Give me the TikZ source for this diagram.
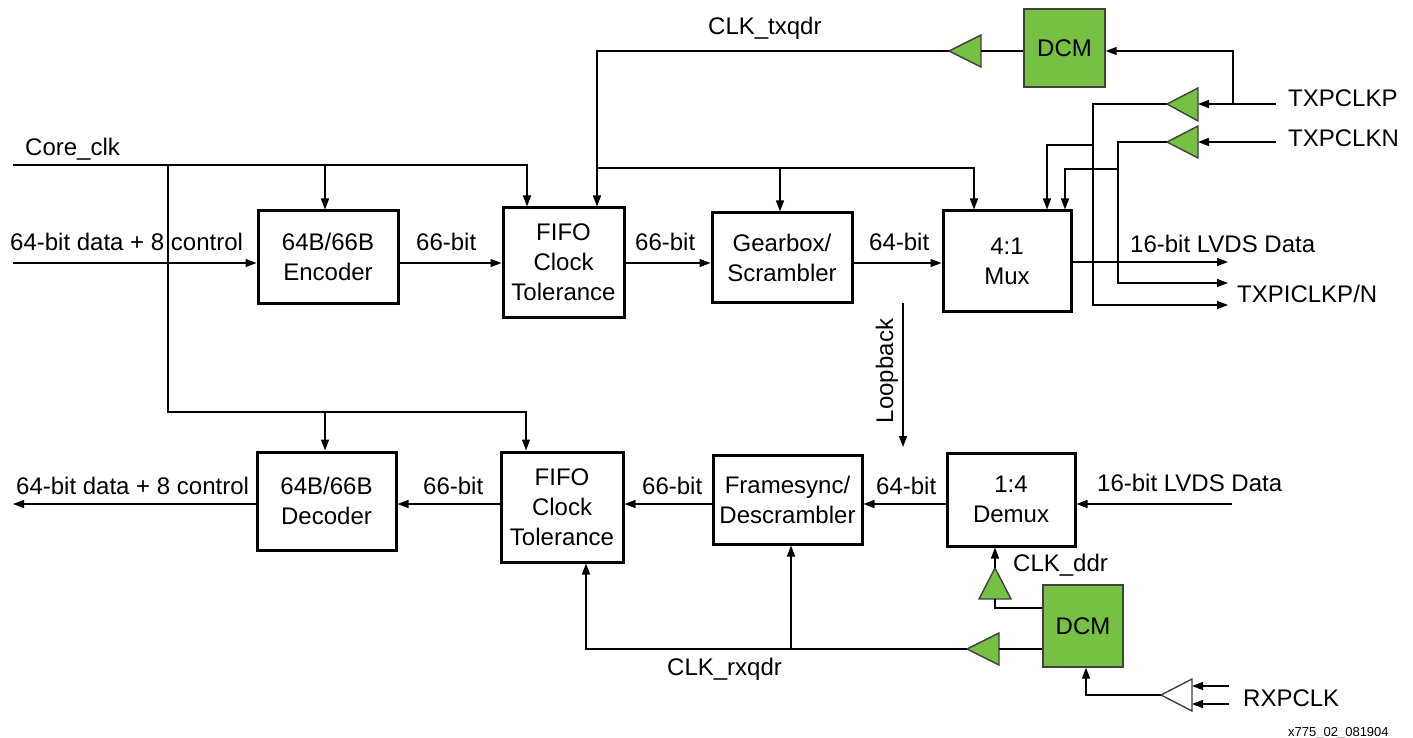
\documentclass[tikz,border=0pt]{standalone}
\usepackage{fontspec}
\setmainfont{Liberation Sans}
\usetikzlibrary{arrows.meta,calc}
\definecolor{dcmgreen}{RGB}{118,192,67}
\begin{document}
\begin{tikzpicture}[x=1pt,y=-1pt,
  every node/.style={font=\fontsize{24}{30}\selectfont, inner sep=0pt},
  wire/.style={line width=1.4pt},
  arr/.style={wire, -{Triangle[length=11pt,width=8pt]}},
  blk/.style={draw, line width=3pt, align=center},
  dcm/.style={draw=black!75, line width=1.4pt, fill=dcmgreen, align=center},
  buf/.style={draw=black!75, line width=1.4pt, fill=dcmgreen, line join=miter},
  wbuf/.style={draw=black!75, line width=1.4pt, fill=white, line join=miter},
  lbl/.style={anchor=base west},
  small/.style={font=\fontsize{13}{15}\selectfont}
]
\useasboundingbox (0,0) rectangle (1413,738);

% ---------------- blocks ----------------
\node[blk, minimum width=140, minimum height=92]  (enc)   at (328,257)   {64B/66B\\Encoder};
\node[blk, minimum width=121, minimum height=109] (fifo1) at (563.5,262.5) {FIFO\\Clock\\Tolerance};
\node[blk, minimum width=140, minimum height=89]  (gear)  at (782,257.5) {Gearbox/\\Scrambler};
\node[blk, minimum width=128, minimum height=100] (mux)   at (1007,261)  {4:1\\Mux};
\node[dcm, minimum width=81, minimum height=78]   (dcm1)  at (1064.5,48) {DCM};

\node[blk, minimum width=139, minimum height=98]  (dec)   at (326.5,501) {64B/66B\\Decoder};
\node[blk, minimum width=122, minimum height=110] (fifo2) at (562,507)   {FIFO\\Clock\\Tolerance};
\node[blk, minimum width=149, minimum height=89]  (fsync) at (787.5,499.5) {Framesync/\\Descrambler};
\node[blk, minimum width=128, minimum height=93]  (demux) at (1011,499.5) {1:4\\Demux};
\node[dcm, minimum width=80, minimum height=82]   (dcm2)  at (1083,626)  {DCM};

% ---------------- levels / columns ----------------
\coordinate (LdT) at (0,263);
\coordinate (LdB) at (0,504);
\coordinate (Lcore) at (0,165);
\coordinate (Ltx) at (0,168);
\coordinate (Lcore2) at (0,412);
\coordinate (Lrx) at (0,649);
\coordinate (Lddr) at (0,608);
\coordinate (Lmo) at (0,262);
\coordinate (Xenc) at (325,0);
\coordinate (Xdec) at (325,0);
\coordinate (Xf1a) at (527,0);
\coordinate (Xf1b) at (597,0);
\coordinate (Xf2a) at (526,0);
\coordinate (Xf2b) at (586,0);
\coordinate (Xgear) at (780,0);
\coordinate (Xfs) at (791,0);
\coordinate (Xmux1) at (974,0);
\coordinate (Xmux2) at (1047,0);
\coordinate (Xmux3) at (1065,0);
\coordinate (Xdcm2) at (1086,0);

% ---------------- buffers ----------------
\coordinate (b1tip) at (949,51);  \coordinate (b1base) at (981,51);
\filldraw[buf] (b1tip) -- (981,35) -- (981,67) -- cycle;
\coordinate (bPtip) at (1167,104); \coordinate (bPbase) at (1198,104);
\filldraw[buf] (bPtip) -- (1198,88) -- (1198,121) -- cycle;
\coordinate (bNtip) at (1167,142); \coordinate (bNbase) at (1198,142);
\filldraw[buf] (bNtip) -- (1198,126) -- (1198,158) -- cycle;
\coordinate (bLtip) at (967,649); \coordinate (bLbase) at (999,649);
\filldraw[buf] (bLtip) -- (999,633) -- (999,665) -- cycle;
\coordinate (bUtip) at (995,568); \coordinate (bUbase) at (995,599);
\filldraw[buf] (bUtip) -- (979,599) -- (1011,599) -- cycle;
\coordinate (bRtip) at (1161,695); \coordinate (bRbase) at (1192,695);
\filldraw[wbuf] (bRtip) -- (1192,679) -- (1192,711) -- cycle;

% ---------------- top data path ----------------
\coordinate (inT) at (13,263);
\draw[arr] (inT) -- (enc.west |- LdT);
\draw[arr] (enc.east |- LdT) -- (fifo1.west |- LdT);
\draw[arr] (fifo1.east |- LdT) -- (gear.west |- LdT);
\draw[arr] (gear.east |- LdT) -- (mux.west |- LdT);

% ---------------- core clock ----------------
\coordinate (coreS) at (13,165);
\coordinate (coreJ) at (168,165);
\draw[arr] (coreS) -| (fifo1.north -| Xf1a);
\draw[arr] (Xenc |- Lcore) -- (enc.north -| Xenc);
\draw[arr] (coreJ) |- (Xf2a |- Lcore2) -- (fifo2.north -| Xf2a);
\draw[arr] (Xdec |- Lcore2) -- (dec.north -| Xdec);

% ---------------- tx clock ----------------
\draw[wire] (dcm1.west |- b1base) -- (b1base);
\draw[arr] (b1tip) -| (fifo1.north -| Xf1b);
\draw[arr] (Xf1b |- Ltx) -| (mux.north -| Xmux1);
\draw[arr] (Xgear |- Ltx) -- (gear.north -| Xgear);

\coordinate (txpIn) at (1276,104);
\coordinate (txnIn) at (1276,142);
\coordinate (jP) at (1233,104);
\draw[arr] (txpIn) -- (bPbase);
\draw[arr] (txnIn) -- (bNbase);
\draw[arr] (jP) |- (dcm1.east |- b1base);

\coordinate (cP1) at (1093,104);
\coordinate (cP2) at (1093,305);
\coordinate (outP) at (1228,305);
\coordinate (cN1) at (1118,142);
\coordinate (cN2) at (1118,283);
\coordinate (outN) at (1228,283);
\coordinate (jP2) at (1093,145);
\coordinate (jN2) at (1118,169);
\coordinate (outD) at (1228,262);
\draw[arr] (bPtip) -- (cP1) -- (cP2) -- (outP);
\draw[arr] (bNtip) -- (cN1) -- (cN2) -- (outN);
\draw[arr] (jP2) -| (mux.north -| Xmux2);
\draw[arr] (jN2) -| (mux.north -| Xmux3);
\draw[arr] (mux.east |- Lmo) -- (outD);

% ---------------- loopback ----------------
\coordinate (lbS) at (903,303);
\coordinate (lbE) at (903,447);
\draw[arr] (lbS) -- (lbE);
\node[rotate=90, anchor=base] (tLoop) at (893,371) {Loopback};

% ---------------- bottom data path ----------------
\coordinate (rxIn) at (1232,504);
\coordinate (outB) at (13,504);
\draw[arr] (rxIn) -- (demux.east |- LdB);
\draw[arr] (demux.west |- LdB) -- (fsync.east |- LdB);
\draw[arr] (fsync.west |- LdB) -- (fifo2.east |- LdB);
\draw[arr] (fifo2.west |- LdB) -- (dec.east |- LdB);
\draw[arr] (dec.west |- LdB) -- (outB);

% ---------------- rx clock ----------------
\draw[wire] (dcm2.west |- Lrx) -- (bLbase);
\draw[arr] (bLtip) -| (fifo2.south -| Xf2b);
\draw[arr] (Xfs |- Lrx) -- (fsync.south -| Xfs);
\draw[wire] (dcm2.west |- Lddr) -| (bUbase);
\draw[arr] (bUtip) -- (demux.south -| bUtip);
\draw[arr] (bRtip) -| (dcm2.south -| Xdcm2);
\coordinate (rxA) at (1229,686);
\coordinate (rxB) at (1229,704);
\draw[arr] (rxA) -- (bRbase |- rxA);
\draw[arr] (rxB) -- (bRbase |- rxB);

% ---------------- labels ----------------
\node[lbl] (tTx)    at (708,35)  {CLK\_txqdr};
\node[lbl] (tCore)  at (25,156)  {Core\_clk};
\node[lbl] (tInT)   at (10,250)  {64-bit data + 8 control};
\node[lbl] (t66a)   at (416,250) {66-bit};
\node[lbl] (t66b)   at (635,250) {66-bit};
\node[lbl] (t64a)   at (869,250) {64-bit};
\node[lbl] (tLvdsT) at (1130,252) {16-bit LVDS Data};
\node[lbl] (tTxp)   at (1288,107) {TXPCLKP};
\node[lbl] (tTxn)   at (1288,147) {TXPCLKN};
\node[lbl] (tTxi)   at (1237,302) {TXPICLKP/N};
\node[lbl] (tOutB)  at (16,494)  {64-bit data + 8 control};
\node[lbl] (t66c)   at (423,494) {66-bit};
\node[lbl] (t66d)   at (642,494) {66-bit};
\node[lbl] (t64b)   at (876,494) {64-bit};
\node[lbl] (tLvdsB) at (1097,491) {16-bit LVDS Data};
\node[lbl] (tDdr)   at (1013,571) {CLK\_ddr};
\node[lbl] (tRxq)   at (667,675) {CLK\_rxqdr};
\node[lbl] (tRxp)   at (1243,706) {RXPCLK};
\node[lbl, small] (tId) at (1288,736) {x775\_02\_081904};
\end{tikzpicture}
\end{document}
